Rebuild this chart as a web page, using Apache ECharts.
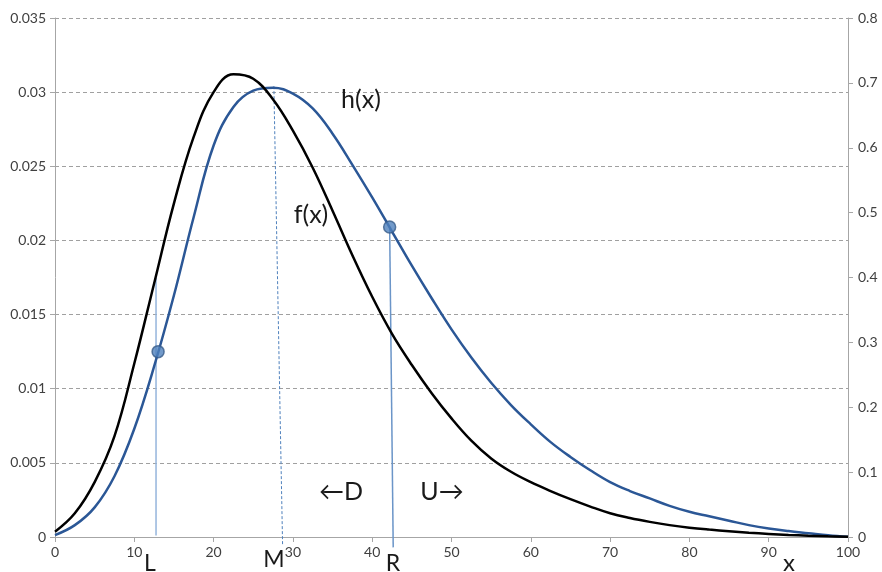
<!DOCTYPE html>
<html>
<head>
<meta charset="utf-8">
<script src="https://cdn.jsdelivr.net/npm/echarts@6/dist/echarts.min.js"></script>
<style>
  html, body { margin: 0; padding: 0; background: #ffffff; }
  #chart { width: 882px; height: 572px; }
</style>
</head>
<body>
<div id="chart"></div>
<script>
// x positions shared by both curves
const xs = [0, 2.5, 5, 7.5, 10, 12.5, 15, 17.5, 20, 22.5, 25, 27.5, 30, 32.5, 35, 37.5, 40, 42.5, 45, 47.5,
            50, 52.5, 55, 57.5, 60, 62.5, 65, 67.5, 70, 72.5, 75, 77.5, 80, 82.5, 85, 87.5, 90, 92.5, 95, 97.5, 100];

// f(x): black density curve
const fY = [0.00036, 0.0016, 0.0037, 0.0068, 0.0117, 0.0171, 0.0225, 0.0270, 0.0300, 0.0312, 0.0309, 0.0295, 0.0274,
            0.0249, 0.0220, 0.0190, 0.0162, 0.0137, 0.0116, 0.0097, 0.0080, 0.0065, 0.0053, 0.0044, 0.0037, 0.0031,
            0.00255, 0.00205, 0.0016, 0.00128, 0.00102, 0.0008, 0.00063, 0.0005, 0.00039, 0.00029, 0.00021, 0.00014,
            0.00009, 0.00005, 0.00002];

// h(x): blue curve
const hY = [0.00013, 0.0008, 0.0020, 0.0041, 0.0073, 0.0115, 0.0163, 0.0216, 0.0264, 0.0290, 0.0301, 0.0303, 0.0299,
            0.0289, 0.0272, 0.0251, 0.0229, 0.0206, 0.0183, 0.0161, 0.0140, 0.0121, 0.0104, 0.0089, 0.0076, 0.0064,
            0.0054, 0.0045, 0.0037, 0.0031, 0.0026, 0.0021, 0.0017, 0.0014, 0.0011, 0.0008, 0.00057, 0.0004,
            0.00026, 0.00012, 0.00001];

// points L and R on h(x)
const dotX = [13.0, 42.2];
const dotY = [0.0125, 0.0209];

// drop lines for L, M and R
const lineLX = [12.74, 12.74];
const lineLY = [0.01746, 0.0001];
const lineMX = [27.6, 28.7];
const lineMY = [0.0304, -0.00054];
const lineRX = [42.2, 42.65];
const lineRY = [0.0209, -0.0007];

// axis tick labels
const xTicks = ['0', '10', '20', '30', '40', '50', '60', '70', '80', '90', '100'];
const leftTicks = ['0', '0.005', '0.01', '0.015', '0.02', '0.025', '0.03', '0.035'];
const rightTicks = ['0', '0.1', '0.2', '0.3', '0.4', '0.5', '0.6', '0.7', '0.8'];

const pairs = (a, b) => a.map((x, i) => [x, b[i]]);

const FONT = 'Lato, "DejaVu Sans", sans-serif';
const AXIS_GRAY = '#a6a6a6';
const TEXT = '#404040';

const chart = echarts.init(document.getElementById('chart'), null, { renderer: 'canvas' });

function txt(s, x, y, size) {
  return {
    type: 'text',
    style: {
      text: s, x: x, y: y, fill: '#1a1a1a',
      font: size + 'px ' + FONT,
      textAlign: 'center', textVerticalAlign: 'middle'
    },
    z: 100
  };
}

chart.setOption({
  animation: false,
  backgroundColor: '#ffffff',
  grid: { left: 55, right: 34, top: 18, bottom: 35 },
  xAxis: {
    type: 'value', min: 0, max: 100, interval: 10,
    axisLine: { show: true, onZero: false, lineStyle: { color: AXIS_GRAY, width: 1 } },
    axisTick: { show: true, length: 5, lineStyle: { color: AXIS_GRAY } },
    splitLine: { show: false },
    axisLabel: {
      color: TEXT, fontSize: 14, fontFamily: FONT, margin: 8,
      formatter: v => xTicks[Math.round(v / 10)]
    }
  },
  yAxis: [
    {
      type: 'value', min: 0, max: 0.035, interval: 0.005, position: 'left',
      axisLine: { show: true, lineStyle: { color: AXIS_GRAY, width: 1 } },
      axisTick: { show: true, length: 5, lineStyle: { color: AXIS_GRAY } },
      splitLine: { show: true, lineStyle: { color: '#a0a0a0', type: [4, 3], width: 1 } },
      axisLabel: {
        color: TEXT, fontSize: 14, fontFamily: FONT, margin: 9,
        formatter: v => leftTicks[Math.round(v / 0.005)]
      }
    },
    {
      type: 'value', min: 0, max: 0.8, interval: 0.1, position: 'right',
      axisLine: { show: true, lineStyle: { color: AXIS_GRAY, width: 1 } },
      axisTick: { show: true, length: 5, lineStyle: { color: AXIS_GRAY } },
      splitLine: { show: false },
      axisLabel: {
        color: TEXT, fontSize: 14, fontFamily: FONT, margin: 10,
        formatter: v => rightTicks[Math.round(v / 0.1)]
      }
    }
  ],
  series: [
    {
      name: 'L', type: 'line', data: pairs(lineLX, lineLY), clip: false,
      symbol: 'none', lineStyle: { color: '#95b5dc', width: 1.5 }, z: 1
    },
    {
      name: 'M', type: 'line', data: pairs(lineMX, lineMY), clip: false,
      symbol: 'none', lineStyle: { color: '#4f81bd', width: 1, type: [3, 2] }, z: 1
    },
    {
      name: 'R', type: 'line', data: pairs(lineRX, lineRY), clip: false,
      symbol: 'none', lineStyle: { color: '#6b95c8', width: 1.5 }, z: 1
    },
    {
      name: 'h(x)', type: 'line', data: pairs(xs, hY),
      smooth: 0.4, symbol: 'none',
      lineStyle: { color: '#2b5796', width: 2.5 }, z: 2
    },
    {
      name: 'f(x)', type: 'line', data: pairs(xs, fY),
      smooth: 0.4, symbol: 'none',
      lineStyle: { color: '#000000', width: 2.5 }, z: 3
    },
    {
      name: 'points', type: 'scatter', data: pairs(dotX, dotY),
      symbol: 'circle', symbolSize: 12,
      itemStyle: { color: '#4f81bd', borderColor: '#385d8a', borderWidth: 1.5 }, z: 4
    }
  ],
  graphic: [
    txt('h(x)', 361, 100, 25),
    txt('f(x)', 311, 215, 25),
    txt('\u2190D', 341, 492, 25),
    txt('U\u2192', 442, 492, 25),
    txt('L', 150, 564, 23),
    txt('M', 274, 560, 23),
    txt('R', 393, 564, 23),
    txt('x', 789, 563, 24)
  ]
});
</script>
</body>
</html>
